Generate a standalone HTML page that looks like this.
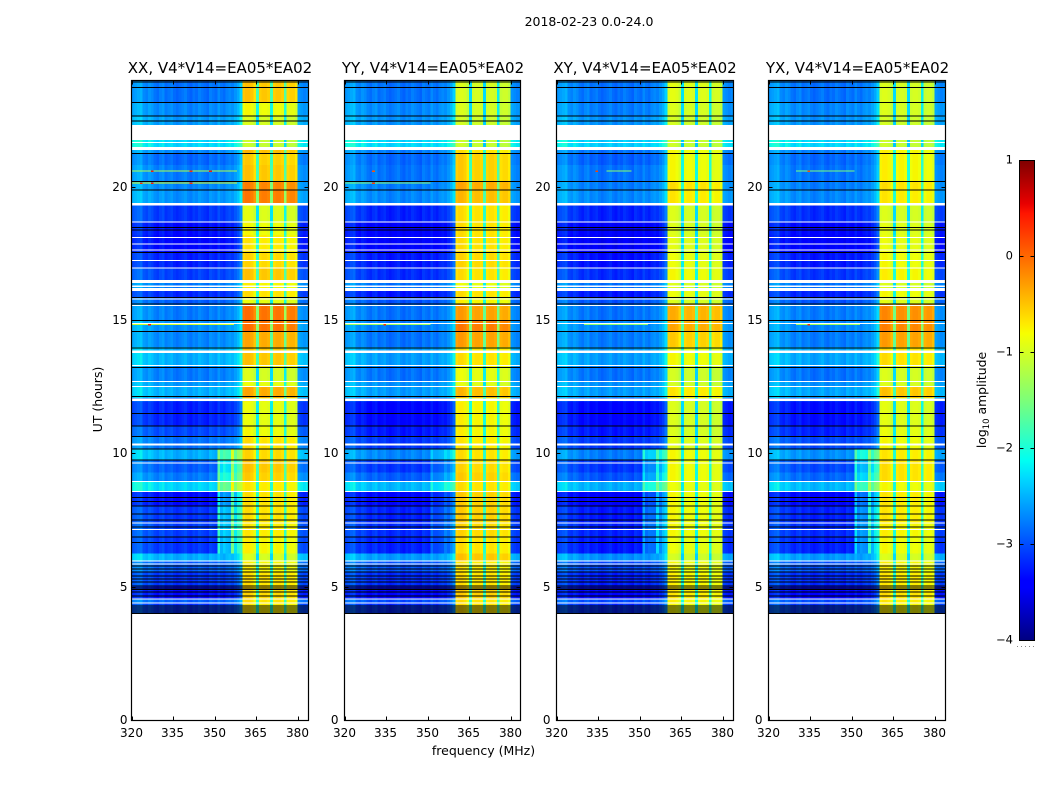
<!DOCTYPE html>
<html lang="en">
<head>
<meta charset="utf-8">
<title>2018-02-23 0.0-24.0</title>
<style>
html,body{margin:0;padding:0;background:#fff;width:1050px;height:800px;overflow:hidden}
svg{display:block}
text{font-family:"DejaVu Sans","Liberation Sans",sans-serif;fill:#000}
</style>
</head>
<body>
<svg id="figure" width="1050" height="800" viewBox="0 0 1050 800" xmlns="http://www.w3.org/2000/svg">
  <defs>
    <linearGradient id="jet" x1="0" y1="1" x2="0" y2="0">
      <stop offset="0" stop-color="rgb(0,0,128)"/>
      <stop offset="0.11" stop-color="rgb(0,0,255)"/>
      <stop offset="0.125" stop-color="rgb(0,0,255)"/>
      <stop offset="0.34" stop-color="rgb(0,219,255)"/>
      <stop offset="0.375" stop-color="rgb(0,255,242)"/>
      <stop offset="0.5" stop-color="rgb(124,255,121)"/>
      <stop offset="0.64" stop-color="rgb(247,255,0)"/>
      <stop offset="0.66" stop-color="rgb(255,234,0)"/>
      <stop offset="0.89" stop-color="rgb(255,21,0)"/>
      <stop offset="0.91" stop-color="rgb(232,0,0)"/>
      <stop offset="1" stop-color="rgb(128,0,0)"/>
    </linearGradient>
  </defs>
  <text x="589" y="26" font-size="12.5" text-anchor="middle">2018-02-23 0.0-24.0</text>
  <text x="483.5" y="755" font-size="12.5" text-anchor="middle">frequency (MHz)</text>
  <text transform="translate(102,399.5) rotate(-90)" font-size="12.5" text-anchor="middle">UT (hours)</text>
  <g id="panels"></g>
  <g id="colorbar">
    <rect x="1019.5" y="160.5" width="15" height="480" fill="url(#jet)" stroke="#000" stroke-width="1"/>
  </g>
  <text transform="translate(986,400) rotate(-90)" font-size="12.4" text-anchor="middle">log<tspan font-size="8.5" dy="3">10</tspan><tspan dy="-3"> amplitude</tspan></text>
  <line x1="1017" y1="646.5" x2="1035" y2="646.5" stroke="#888" stroke-width="1" stroke-dasharray="1 3"/>
</svg>
<script>
// ---- chart data ----
const panelTitles = ["XX, V4*V14=EA05*EA02","YY, V4*V14=EA05*EA02","XY, V4*V14=EA05*EA02","YX, V4*V14=EA05*EA02"];
const xTickValues = [320,335,350,365,380];
const yTickValues = [0,5,10,15,20];
const cbarTickValues = [-4,-3,-2,-1,0,1];

// Top hour of each time block; the last block ends at blockFloor.
const blockFloor = 4.0;
const blockTops = [24.0,23.2,22.68,21.76,21.5,21.28,20.83,20.23,19.91,19.4,18.7,18.2,17.56,16.97,16.5,16.1,15.88,15.6,15.0,14.6,14.0,13.28,12.72,12.5,12.1,11.97,11.07,10.67,10.2,9.79,9.3,8.96,8.6,8.07,7.43,6.9,6.27,5.96,5.55,5.03,4.58,4.4];

// Log10 amplitude of the low-frequency (background) channels per block.
const lowXX = [-2.8,-2.7,-2.6,-2.3,-2.7,-2.85,-2.75,-2.7,-2.65,-3.1,-3.3,-3.35,-3.2,-3.05,-2.75,-3.15,-2.9,-2.75,-2.65,-2.7,-2.5,-2.75,-2.6,-2.5,-2.95,-3.2,-3.0,-2.8,-2.5,-2.9,-2.75,-2.3,-3.3,-3.1,-3.05,-3.1,-2.5,-2.9,-3.1,-3.3,-2.9,-3.1];
const lowYY = [-2.8,-2.7,-2.65,-2.3,-2.75,-2.85,-2.8,-2.75,-2.7,-3.2,-3.4,-3.4,-3.25,-3.15,-2.8,-3.25,-2.95,-2.8,-2.75,-2.8,-2.6,-2.8,-2.65,-2.6,-3.05,-3.35,-3.25,-3.1,-2.7,-3.1,-2.9,-2.45,-3.35,-3.2,-3.15,-3.2,-2.6,-2.95,-3.15,-3.35,-3.0,-3.15];
const lowXY = [-2.8,-2.75,-2.65,-2.35,-2.8,-2.9,-2.8,-2.75,-2.7,-3.2,-3.4,-3.45,-3.3,-3.15,-2.8,-3.25,-2.95,-2.8,-2.7,-2.75,-2.6,-2.8,-2.65,-2.6,-3.05,-3.35,-3.25,-3.1,-2.75,-3.1,-2.95,-2.5,-3.4,-3.25,-3.2,-3.25,-2.65,-3.0,-3.2,-3.35,-3.0,-3.15];
const lowYX = [-2.8,-2.7,-2.65,-2.3,-2.75,-2.85,-2.8,-2.75,-2.7,-3.15,-3.35,-3.4,-3.25,-3.1,-2.8,-3.2,-2.95,-2.75,-2.7,-2.75,-2.55,-2.8,-2.65,-2.55,-3.0,-3.3,-3.2,-3.0,-2.65,-3.0,-2.85,-2.45,-3.35,-3.2,-3.15,-3.2,-2.6,-2.95,-3.15,-3.35,-3.0,-3.1];

// Log10 amplitude of the bright 360-380 MHz channels per block.
const highXX = [-0.55,-0.85,-1.0,-1.1,-0.5,-0.6,-0.55,-0.2,-0.15,-0.95,-0.85,-0.75,-0.65,-0.55,-0.8,-0.7,-0.9,-0.1,-0.1,-0.4,-0.55,-1.0,-0.9,-0.4,-0.8,-0.9,-0.85,-0.7,-0.65,-0.55,-0.6,-0.75,-0.7,-0.7,-0.75,-0.8,-1.0,-0.8,-0.7,-0.65,-0.7,-0.75];
const highYY = [-1.0,-1.0,-1.05,-1.1,-0.7,-0.6,-0.6,-0.4,-0.5,-0.7,-0.7,-0.7,-0.65,-0.7,-0.9,-0.7,-0.8,-0.35,-0.15,-0.35,-0.7,-0.9,-0.95,-0.5,-0.9,-0.8,-0.8,-0.75,-0.7,-0.65,-0.6,-0.7,-0.6,-0.6,-0.65,-0.7,-0.55,-0.75,-0.7,-0.6,-0.7,-0.7];
const highXY = [-0.95,-1.0,-1.05,-1.1,-0.85,-0.85,-0.85,-0.7,-0.75,-1.0,-1.0,-0.95,-0.9,-0.85,-1.0,-0.9,-1.0,-0.45,-0.4,-0.6,-0.85,-1.05,-1.05,-0.75,-1.0,-1.0,-1.0,-0.95,-0.85,-0.85,-0.85,-0.9,-0.85,-0.85,-0.85,-0.9,-1.05,-0.85,-0.8,-0.75,-0.8,-0.85];
const highYX = [-1.0,-1.0,-1.05,-1.1,-0.8,-0.8,-0.8,-0.7,-0.75,-1.0,-0.95,-0.9,-0.85,-0.8,-1.0,-0.85,-0.95,-0.25,-0.2,-0.35,-0.7,-1.0,-1.0,-0.55,-0.95,-0.95,-0.9,-0.85,-0.75,-0.7,-0.7,-0.85,-0.75,-0.75,-0.8,-0.85,-1.0,-0.8,-0.75,-0.7,-0.75,-0.8];

// 64 1-MHz channels: offset relative to the block level.
const channelOffsets = [.15,.2,.25,.3,.1,.05,.15,.1,0,-.05,.05,.1,-.05,0,.05,-.05,-.1,-.05,0,.05,-.05,-.1,0,-.05,.05,0,-.05,-.1,.05,0,-.05,.1,0,-.05,.05,.1,.05,.15,.25,.45,
  .05,.1,.1,.05,-.1,-1.3,0,.05,.05,0,-1.3,0,.05,.05,0,-1.2,-.05,0,0,-.1,
  .15,.1,.05,.1];
const highChannelFirst = 40;
const highChannelLast = 59;

// Interference strips in channels 31-39, early in the day.
const stripFirstChannel = 31;
const stripOffsets = [1.0,.6,.8,.6,.5,1.5,.7,.9,.8];
const stripStartHour = 6.27;
const stripEndHour = 10.66;
const stripGains = [1,.25,.6,.8];

// Thin RFI lines: [hour, first channel, last channel, log amplitude, panel].
const hotLines = [[20.63,0,37,-1.2,0],[20.17,0,37,-0.9,0],[14.86,0,36,-1.0,0],[20.17,0,30,-1.4,1],[14.86,0,30,-1.3,1],[14.86,10,32,-1.4,2],[20.63,18,26,-1.4,2],[14.86,10,32,-1.3,3],[20.63,10,30,-1.5,3]];
const hotSpots = [[20.63,7,0.4,0],[20.63,28,0.4,0],[20.63,21,0.3,0],[20.17,7,0.4,0],[20.17,3,0.3,0],[20.17,21,0.3,0],[14.86,6,0.4,0],[20.17,10,0.2,1],[20.63,10,0.1,1],[14.86,14,0.3,1],[20.63,14,0.2,2],[14.86,14,0.3,3],[20.63,14,0.1,3]];

// Flagged integrations: [top hour, bottom hour].
const whiteGapTops = [22.33,21.7,21.5,19.4,18.72,18.14,17.89,17.66,17.26,16.99,16.51,16.32,16.21,15.82,15.59,14.91,13.88,13.33,12.74,12.54,12.07,10.38,9.68,8.99,8.61,7.43,7.18,6.0,5.89,4.58,4.42];
const whiteGapBottoms = [21.76,21.66,21.39,19.32,18.69,18.11,17.86,17.63,17.23,16.96,16.4,16.25,16.11,15.79,15.56,14.88,13.78,13.3,12.71,12.51,11.98,10.32,9.65,8.96,8.58,7.4,7.15,5.96,5.86,4.55,4.39];
// Integrations below the colour range, drawn black.
const blackLineHours = [23.96,23.76,23.2,22.68,22.5,21.28,20.23,19.91,18.51,18.41,17.56,15.88,15.64,15.01,14.6,13.98,13.26,12.16,11.53,11.07,10.67,10.2,9.79,8.38,8.23,8.07,7.76,7.54,7.28,6.9,6.69,5.82,5.7,5.59,5.44,5.33,5.22,5.07,4.99,4.93,4.84,4.69,4.32,4.24,4.17,4.09,4.03];

// ---- layout / scales ----
const panelLows = [lowXX,lowYY,lowXY,lowYX];
const panelHighs = [highXX,highYY,highXY,highYX];
const panelLefts = [131.5,344.5,556.5,768.5];
const panelRights = [308.5,520.5,733.5,945.5];
const plotTop = 80.5, plotBottom = 720.5;
const titleCentres = [220,433,645,857.5];
const pxPerMHz = 2.77;
const NS = "http://www.w3.org/2000/svg";

function yScale(h){ return plotBottom - h*(plotBottom-plotTop)/24; }
function xScale(p,f){ return panelLefts[p] + (f-320)*pxPerMHz; }
function lerp(a,b,t){ return a+(b-a)*t; }
function interp(stops,t){
  for(let i=1;i<stops.length;i++){
    if(t<=stops[i][0]) return lerp(stops[i-1][1],stops[i][1],(t-stops[i-1][0])/(stops[i][0]-stops[i-1][0]));
  }
  return stops[stops.length-1][1];
}
const jetR=[[0,0],[.35,0],[.66,1],[.89,1],[1,.5]];
const jetG=[[0,0],[.125,0],[.375,1],[.64,1],[.91,0],[1,0]];
const jetB=[[0,.5],[.11,1],[.34,1],[.65,0],[1,0]];
function jet(v){
  const t=Math.max(0,Math.min(1,(v+4)/5));
  return "rgb("+Math.round(255*interp(jetR,t))+","+Math.round(255*interp(jetG,t))+","+Math.round(255*interp(jetB,t))+")";
}
function make(tag,attrs,parent){
  const el=document.createElementNS(NS,tag);
  for(const k in attrs) el.setAttribute(k,attrs[k]);
  parent.appendChild(el);
  return el;
}

const panelsRoot=document.getElementById("panels");
panelTitles.forEach(function(title,p){
  const g=make("g",{},panelsRoot);
  
  
  const L=panelLefts[p], R=panelRights[p];
  const cells=make("g",{"shape-rendering":"crispEdges"},g);
  
  

  blockTops.forEach(function(top,b){
    const bottom = b+1<blockTops.length ? blockTops[b+1] : blockFloor;
    const y0=yScale(top), y1=yScale(bottom);
    channelOffsets.forEach(function(off,ch){
      const isHigh = ch>=highChannelFirst && ch<=highChannelLast;
      let v=(isHigh?panelHighs[p][b]:panelLows[p][b])+off;
      const si=ch-stripFirstChannel;
      if(si>=0 && si<stripOffsets.length && top<=stripEndHour && bottom>=stripStartHour){
        v+=stripOffsets[si]*stripGains[p];
      }
      const x0=xScale(p,320+ch), x1=Math.min(R,xScale(p,321+ch));
      const w = ch===channelOffsets.length-1 ? R-x0 : x1-x0;
      const cell=make("rect",{x:x0,y:y0,width:w+0.4,height:y1-y0+0.4,fill:jet(v)},cells);
      
      
    });
  });

  hotLines.filter(function(d){return d[4]===p;}).forEach(function(d){
    const hl=make("rect",{x:xScale(p,320+d[1]),y:yScale(d[0]),width:(d[2]-d[1]+1)*pxPerMHz,height:1,fill:jet(d[3])},cells);
    
    
  });
  hotSpots.filter(function(d){return d[3]===p;}).forEach(function(d){
    const hs=make("rect",{x:xScale(p,320+d[1]),y:yScale(d[0]),width:pxPerMHz,height:1.5,fill:jet(d[2])},cells);
    
    
  });
  blackLineHours.forEach(function(h){
    const bl=make("rect",{x:L,y:yScale(h),width:R-L,height:1,fill:"#000"},cells);
    
    
  });
  whiteGapTops.forEach(function(h,i){
    const y0=yScale(h), y1=yScale(whiteGapBottoms[i]);
    const wg=make("rect",{x:L,y:y0,width:R-L,height:Math.max(1,y1-y0),fill:"#fff"},cells);
    
    
  });

  const frame=make("rect",{x:L,y:plotTop,width:R-L,height:plotBottom-plotTop,fill:"none",stroke:"#000","stroke-width":1.2},g);
  
  

  xTickValues.forEach(function(f){
    const x=Math.round(xScale(p,f))+0.5;
    const t1=make("line",{x1:x,x2:x,y1:plotBottom,y2:plotBottom-4,stroke:"#000"},g);
    
    
    const t2=make("line",{x1:x,x2:x,y1:plotTop,y2:plotTop+4,stroke:"#000"},g);
    
    
    const lab=make("text",{x:x-1,y:737,"font-size":12,"text-anchor":"middle"},g);
    
    
    lab.textContent=String(f);
  });
  yTickValues.forEach(function(h){
    const y=Math.round(yScale(h)-0.5)+0.5;
    const t1=make("line",{x1:L,x2:L+4,y1:y,y2:y,stroke:"#000"},g);
    
    
    const t2=make("line",{x1:R,x2:R-4,y1:y,y2:y,stroke:"#000"},g);
    
    
    const lab=make("text",{x:L-(p===0?4:6),y:y+3.5,"font-size":12,"text-anchor":"end"},g);
    
    
    lab.textContent=String(h);
  });
  const tt=make("text",{x:titleCentres[p],y:73,"font-size":15,"text-anchor":"middle"},g);
  
  
  tt.textContent=title;
});

// ---- colour bar ticks ----
const cbar=document.getElementById("colorbar");
function cbarY(v){ return 640.5-(v+4)*96; }
cbarTickValues.forEach(function(v){
  const y=cbarY(v);
  const a=make("line",{x1:1019.5,x2:1023.5,y1:y,y2:y,stroke:"#000"},cbar);
  
  
  const b=make("line",{x1:1034.5,x2:1030.5,y1:y,y2:y,stroke:"#000"},cbar);
  
  
  const t=make("text",{x:1013,y:y+3,"font-size":11.5,"text-anchor":"end"},cbar);
  
  
  t.textContent=(v<0?"\u2212":"")+Math.abs(v);
});
</script>
</body>
</html>
